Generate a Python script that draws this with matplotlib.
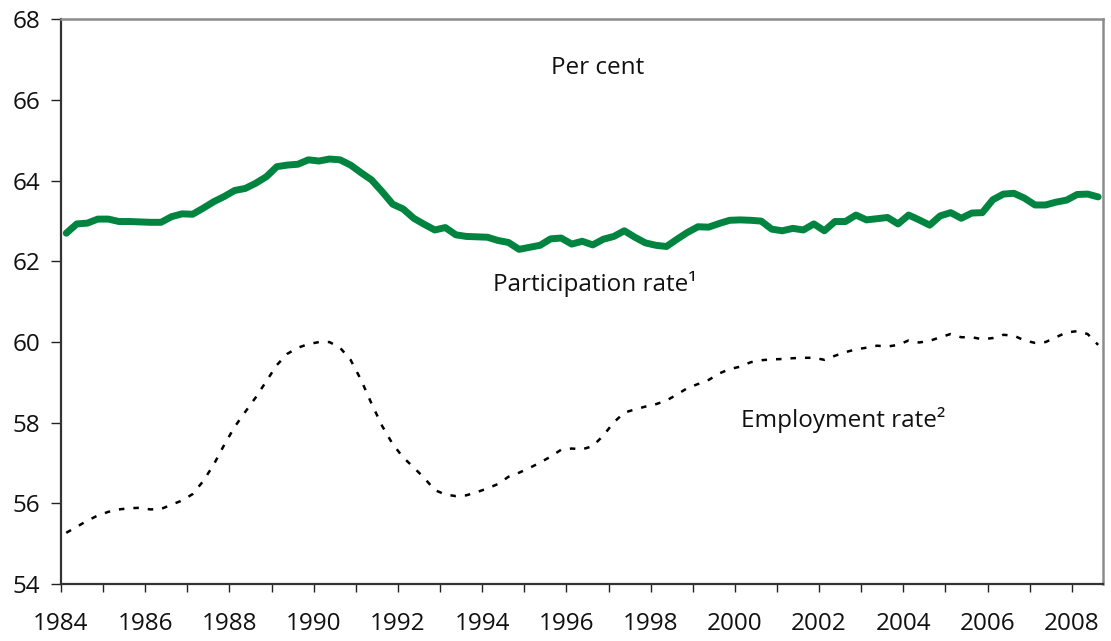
import matplotlib
matplotlib.use("Agg")
import matplotlib.pyplot as plt
from matplotlib.ticker import FixedLocator, FuncFormatter
import numpy as np

# Quarterly data, 1984Q1 - 2008Q3 (per cent)
participation_rate = [
    62.70, 62.93, 62.95, 63.05, 63.05, 62.99, 62.99, 62.98, 62.97, 62.97,
    63.11, 63.18, 63.17, 63.32, 63.48, 63.61, 63.76, 63.81, 63.94, 64.10,
    64.35, 64.39, 64.41, 64.52, 64.49, 64.54, 64.52, 64.39, 64.20, 64.02,
    63.73, 63.42, 63.30, 63.07, 62.92, 62.78, 62.84, 62.66, 62.62, 62.61,
    62.60, 62.52, 62.47, 62.30, 62.35, 62.40, 62.56, 62.58, 62.43, 62.50,
    62.41, 62.55, 62.62, 62.76, 62.60, 62.46, 62.40, 62.37, 62.55, 62.72,
    62.86, 62.85, 62.94, 63.02, 63.03, 63.02, 63.00, 62.80, 62.76, 62.82,
    62.78, 62.93, 62.76, 62.99, 62.99, 63.15, 63.03, 63.06, 63.09, 62.93,
    63.15, 63.03, 62.90, 63.13, 63.21, 63.07, 63.20, 63.21, 63.53, 63.67,
    63.69, 63.57, 63.40, 63.40, 63.47, 63.52, 63.66, 63.67, 63.60,
]
employment_rate = [
    55.27, 55.42, 55.57, 55.70, 55.79, 55.85, 55.88, 55.89, 55.85, 55.86,
    55.97, 56.07, 56.23, 56.55, 56.96, 57.45, 57.90, 58.27, 58.63, 59.03,
    59.43, 59.71, 59.86, 59.95, 60.00, 60.00, 59.86, 59.56, 59.06, 58.47,
    57.92, 57.47, 57.14, 56.89, 56.63, 56.33, 56.22, 56.18, 56.20, 56.28,
    56.37, 56.48, 56.66, 56.76, 56.88, 57.01, 57.16, 57.33, 57.36, 57.34,
    57.42, 57.68, 58.01, 58.25, 58.33, 58.40, 58.46, 58.55, 58.70, 58.86,
    58.96, 59.06, 59.22, 59.33, 59.39, 59.50, 59.55, 59.57, 59.58, 59.60,
    59.61, 59.61, 59.56, 59.66, 59.75, 59.82, 59.86, 59.91, 59.89, 59.93,
    60.04, 59.99, 60.03, 60.12, 60.20, 60.12, 60.12, 60.07, 60.10, 60.18,
    60.16, 60.04, 59.98, 60.00, 60.12, 60.24, 60.27, 60.20, 59.93,
]
first_year = 1984
year_ticks = list(range(1984, 2009))
y_ticks = [54, 56, 58, 60, 62, 64, 66, 68]

# quarter mid-points as decimal years
t = first_year + 0.125 + 0.25 * np.arange(len(participation_rate))

plt.rcParams['font.family'] = ['Open Sans', 'DejaVu Sans']
fig = plt.figure(figsize=(11.11, 6.41), dpi=100)
ax = fig.add_axes([0.0549, 0.0889, 0.9379, 0.8807])

ax.plot(t, participation_rate, color='#00843F', lw=5.0,
        solid_capstyle='round', solid_joinstyle='round')
ax.plot(t, employment_rate, color='black', lw=1.8,
        linestyle=(0, (2.2, 3.6)))

ax.set_xlim(1984, 2008.74)
ax.set_ylim(54, 68)

ax.xaxis.set_major_locator(FixedLocator(year_ticks))
ax.xaxis.set_major_formatter(FuncFormatter(lambda v, p: f"{int(round(v))}" if int(round(v)) % 2 == 0 else ""))
ax.yaxis.set_major_locator(FixedLocator(y_ticks))

ax.tick_params(axis='x', direction='out', length=5.5, width=1.0, color='#222222',
               labelsize=17.5, pad=15, labelcolor='#111111')
ax.tick_params(axis='y', direction='out', length=7, width=1.0, color='#222222',
               labelsize=17.5, pad=8, labelcolor='#111111')

for s in ['left', 'bottom']:
    ax.spines[s].set_color('#333333')
    ax.spines[s].set_linewidth(1.6)
for s in ['top', 'right']:
    ax.spines[s].set_color('#8c8c8c')
    ax.spines[s].set_linewidth(1.8)

ax.text(1996.75, 66.80, "Per cent", ha='center', va='center', fontsize=17.5, color='#111111')
ax.text(1994.26, 61.44, "Participation rate\u00b9", ha='left', va='center', fontsize=17.5, color='#111111')
ax.text(2000.14, 58.07, "Employment rate\u00b2", ha='left', va='center', fontsize=17.5, color='#111111')

fig.savefig("out.png", dpi=100)
